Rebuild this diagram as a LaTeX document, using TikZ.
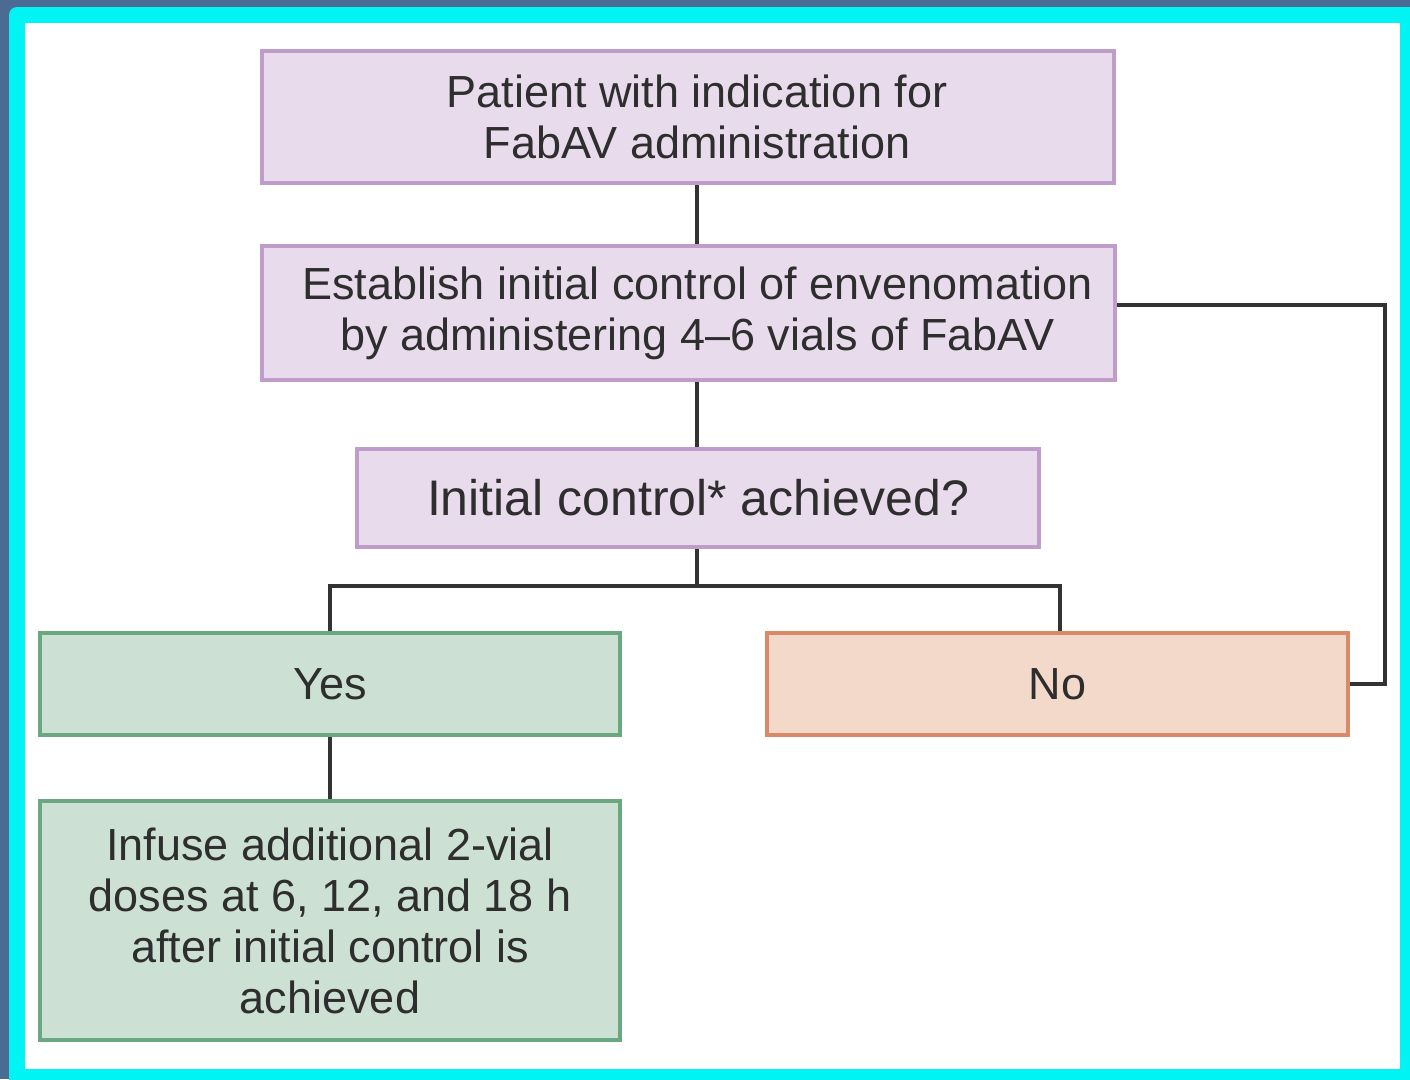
\documentclass[tikz,border=0pt]{standalone}
\usepackage{fontspec}
\setmainfont{Liberation Sans}
\definecolor{darkbg}{HTML}{4B6B93}
\definecolor{cyanframe}{HTML}{00F4F4}
\definecolor{purplefill}{HTML}{E8DCEC}
\definecolor{purpleline}{HTML}{C09CCA}
\definecolor{greenfill}{HTML}{CCE0D3}
\definecolor{greenline}{HTML}{6AA882}
\definecolor{orangefill}{HTML}{F3D9CA}
\definecolor{orangeline}{HTML}{D98A68}
\definecolor{txt}{HTML}{2E2E2E}
\definecolor{conn}{HTML}{333333}
\begin{document}
\begin{tikzpicture}[x=1pt,y=-1pt,
  boxbase/.style={draw, line width=4pt, inner sep=0pt, align=center, text=txt,
    font=\fontsize{45}{51}\selectfont},
  purplebox/.style={boxbase, fill=purplefill, draw=purpleline},
  greenbox/.style={boxbase, fill=greenfill, draw=greenline},
  orangebox/.style={boxbase, fill=orangefill, draw=orangeline},
  link/.style={draw=conn, line width=4.5pt}]
\useasboundingbox (0,0) rectangle (1410,1079);
\fill[darkbg] (0,0) rectangle (1410,1079);
\begin{scope}
\clip (0,0) rectangle (1410,1079);
\fill[cyanframe, rounded corners=8pt] (9,7) rectangle (1440,1110);
\end{scope}
\fill[white] (25,23) rectangle (1400,1069);

\node[purplebox, minimum width=852, minimum height=132] (b1) at (688,117)
  {\hspace*{18pt}Patient with indication for\\\hspace*{18pt}FabAV administration};
\node[purplebox, minimum width=853, minimum height=134] (b2) at (688.5,313)
  {\hspace*{18pt}Establish initial control of envenomation\\\hspace*{18pt}by administering 4--6 vials of FabAV};
\node[purplebox, minimum width=682, minimum height=98, font=\fontsize{50}{56}\selectfont] (b3) at (698,498)
  {Initial control* achieved?};
\node[greenbox, minimum width=580, minimum height=102] (yes) at (330,684) {Yes};
\node[orangebox, minimum width=581, minimum height=102] (no) at (1057.5,684) {\raisebox{-3pt}{No}};
\node[greenbox, minimum width=580, minimum height=239] (inf) at (330,920.5)
  {Infuse additional 2-vial\\doses at 6, 12, and 18 h\\after initial control is\\achieved};

\coordinate (spine) at (697,0);
\coordinate (junc) at (697,586);
\coordinate (loopr) at (1385,305);

\draw[link] (b1.south -| spine) -- (b2.north -| spine);
\draw[link] (b2.south -| spine) -- (b3.north -| spine);
\draw[link] (b3.south -| spine) -- (junc);
\draw[link] (yes.north) |- (junc) -| (no.north -| 1060,0);
\draw[link] (yes.south) -- (inf.north);
\draw[link] (b2.east |- loopr) -- (loopr) |- (no.east);
\end{tikzpicture}
\end{document}
